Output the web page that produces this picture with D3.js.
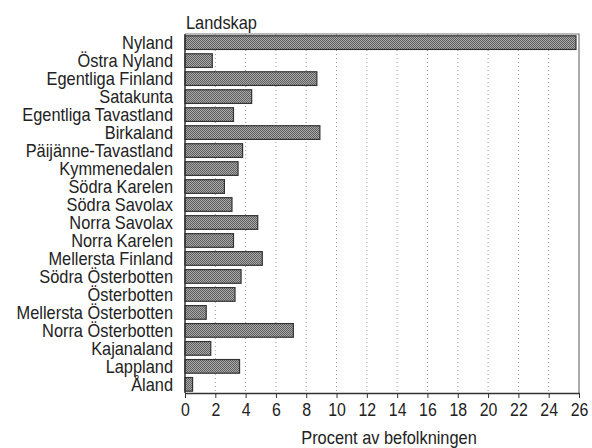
<!DOCTYPE html>
<html>
<head>
<meta charset="utf-8">
<script src="https://cdn.jsdelivr.net/npm/d3@7"></script>
<style>
body{margin:0;background:#fff;}
svg text{font-family:"Liberation Sans",Arial,sans-serif;fill:#222;}
</style>
</head>
<body>
<svg class="barChart" width="592" height="448"></svg>
<script>
var regions = ['Nyland','Östra Nyland','Egentliga Finland','Satakunta','Egentliga Tavastland',
	'Birkaland','Päijänne-Tavastland','Kymmenedalen','Södra Karelen','Södra Savolax',
	'Norra Savolax','Norra Karelen','Mellersta Finland','Södra Österbotten','Österbotten',
	'Mellersta Österbotten','Norra Österbotten','Kajanaland','Lappland','Åland'];
// procent av befolkningen
var shares = [25.8,1.8,8.7,4.4,3.2,8.9,3.8,3.5,2.6,3.1,4.8,3.2,5.1,3.7,3.3,1.4,7.15,1.7,3.6,0.5];
var tickValues = [0,2,4,6,8,10,12,14,16,18,20,22,24,26];

var config = {left:185, right:579, top:34, bottom:393, squeeze:0.91};

var svg = d3.select('.barChart');

// narrow text: no condensed face installed, so squeeze horizontally
function narrowText(sel,x,y){
	sel.attr('transform','translate('+x+','+y+') scale('+config.squeeze+',1)');
}

var defs = svg.append('defs');
var pat = defs.append('pattern')
	.attr('id','dots')
	.attr('width',2).attr('height',2)
	.attr('patternUnits','userSpaceOnUse');
pat.append('rect').attr('width',2).attr('height',2).attr('fill','#aaa');
pat.append('rect').attr('width',1).attr('height',1).attr('fill','#5e5e5e');
pat.append('rect').attr('x',1).attr('y',1).attr('width',1).attr('height',1).attr('fill','#5e5e5e');

var xScale = d3.scaleLinear()
	.domain([0,26])
	.range([config.left,config.right]);

var yScale = d3.scaleBand()
	.domain(regions)
	.range([config.top,config.bottom])
	.paddingInner(0.24)
	.paddingOuter(0.1);

// grid
svg.append('g').selectAll('line')
	.data(tickValues.filter(d => d>0 && d<26))
	.enter().append('line')
	.attr('x1',d => xScale(d)).attr('x2',d => xScale(d))
	.attr('y1',config.top).attr('y2',config.bottom)
	.attr('stroke','#999')
	.attr('stroke-width',1)
	.attr('stroke-dasharray','1,3');

// frame top/right
svg.append('path')
	.attr('d','M'+config.left+','+config.top+'H'+config.right+'V'+config.bottom)
	.attr('fill','none')
	.attr('stroke','#777')
	.attr('stroke-width',1.2);

// bars
svg.append('g').selectAll('rect')
	.data(regions)
	.enter().append('rect')
	.attr('x',xScale(0))
	.attr('y',d => yScale(d))
	.attr('height',yScale.bandwidth())
	.attr('width',(d,i) => xScale(shares[i]) - xScale(0))
	.attr('fill','url(#dots)')
	.attr('stroke','#333')
	.attr('stroke-width',1.2);

// x axis
var xAxis = svg.append('g')
	.attr('transform','translate(0,'+config.bottom+')')
	.call(d3.axisBottom(xScale).tickValues(tickValues).tickSize(5).tickPadding(5).tickSizeOuter(0));
xAxis.select('.domain').attr('stroke','#333').attr('stroke-width',1.5);
xAxis.selectAll('.tick line').attr('stroke','#333');
xAxis.selectAll('text')
	.attr('font-size',18.5)
	.attr('font-family','"Liberation Sans",Arial,sans-serif')
	.attr('fill','#222')
	.attr('transform','scale(0.86,1)');

// y axis line
svg.append('line')
	.attr('x1',config.left).attr('x2',config.left)
	.attr('y1',config.top).attr('y2',config.bottom)
	.attr('stroke','#333').attr('stroke-width',1.5);

// category labels
svg.append('g').selectAll('text')
	.data(regions)
	.enter().append('text')
	.text(d => d)
	.attr('dy','0.36em')
	.attr('text-anchor','end')
	.attr('font-size',18)
	.each(function(d){
		narrowText(d3.select(this), config.left - 12, yScale(d) + yScale.bandwidth()/2);
	});

svg.append('text')
	.text('Landskap')
	.attr('font-size',18)
	.call(narrowText, config.left + 1, 29);

svg.append('text')
	.text('Procent av befolkningen')
	.attr('text-anchor','middle')
	.attr('font-size',18)
	.call(narrowText, 389, 444);
</script>
</body>
</html>
